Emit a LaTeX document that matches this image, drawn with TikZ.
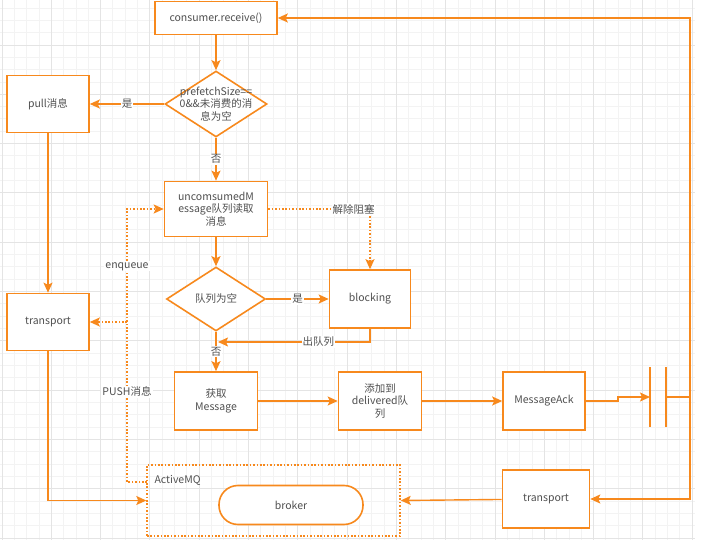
\documentclass[tikz,border=0pt]{standalone}
\usepackage{fontspec}
\setmainfont{Noto Sans CJK SC}
\usetikzlibrary{shapes.geometric,arrows.meta}
\definecolor{flow}{RGB}{247,137,29}
\definecolor{txtgray}{RGB}{80,80,80}
\definecolor{gridmin}{RGB}{243,243,243}
\definecolor{gridmaj}{RGB}{228,228,228}
\begin{document}
\begin{tikzpicture}[x=1pt,y=-1pt,font=\fontsize{10.5}{12.5}\selectfont,text=txtgray,
    box/.style={draw=flow,line width=1.6pt,fill=white,align=center,inner sep=0pt},
    cond/.style={diamond,draw=flow,line width=1.6pt,fill=white,minimum width=102pt,minimum height=66pt,inner sep=0pt},
    conn/.style={draw=flow,line width=1.4pt,-{Stealth[length=10pt,width=9pt,inset=2pt]}},
    dots/.style={conn,dash pattern=on 1.6pt off 1.8pt},
    lbl/.style={fill=white,inner sep=1pt}]
    \useasboundingbox (0,0) rectangle (705,551);
    % grid
    \foreach \k in {0,...,56} {
        \pgfmathsetmacro\gx{2+12.325*\k}
        \draw[gridmin,line width=0.9pt] (\gx,0) -- (\gx,540);
    }
    \foreach \k in {1,...,44} {
        \pgfmathsetmacro\gy{-4.3+12.325*\k}
        \draw[gridmin,line width=0.9pt] (0,\gy) -- (695,\gy);
    }
    \foreach \k in {0,...,14} {
        \pgfmathsetmacro\gx{2+49.3*\k}
        \draw[gridmaj,line width=0.9pt] (\gx,0) -- (\gx,540);
    }
    \foreach \k in {1,...,11} {
        \pgfmathsetmacro\gy{-4.3+49.3*\k}
        \draw[gridmaj,line width=0.9pt] (0,\gy) -- (695,\gy);
    }
    % nodes
    \node[box,minimum width=122pt,minimum height=33pt] (recv) at (216,18) {consumer.receive()};
    \node[cond] (pre) at (216,104) {};
    \node[align=center] (pretxt) at (pre) {prefetchSize==\\0\&\&未消费的消\\息为空};
    \node[box,minimum width=82pt,minimum height=57pt] (pull) at (48,104) {pull消息};
    \node[box,minimum width=103pt,minimum height=55pt] (unc) at (216,209) {uncomsumedM\\essage队列读取\\消息};
    \node[cond,minimum width=99pt,minimum height=64pt] (emp) at (216,299) {队列为空};
    \node[box,minimum width=81pt,minimum height=58pt] (blk) at (370,299) {blocking};
    \node[box,minimum width=82pt,minimum height=57pt] (tl) at (48,322) {transport};
    \node[box,minimum width=83pt,minimum height=58pt] (get) at (216,401) {获取\\Message};
    \node[box,minimum width=83pt,minimum height=58pt] (add) at (380,401) {添加到\\delivered队\\列};
    \node[box,minimum width=82pt,minimum height=58pt] (ack) at (544,401) {MessageAck};
    \node[draw=flow,line width=1.4pt,dash pattern=on 1.6pt off 1.8pt,minimum width=253pt,minimum height=71pt] (mq) at (273.5,500.5) {};
    \node[anchor=west] (mqlbl) at (151,480) {ActiveMQ};
    \node[box,rounded corners=19pt,minimum width=144pt,minimum height=39pt] (brk) at (291,505) {broker};
    \node[box,minimum width=87pt,minimum height=58pt] (tr) at (546,499) {transport};
    % coordinates for bends
    \coordinate (deq) at (218,342);
    \coordinate (capA) at (650,397);
    \coordinate (capB) at (666,397);
    \coordinate (ret) at (690,397);
    \coordinate (mqtap) at (147,482);
    \coordinate (pa) at (127,482);
    \coordinate (pb) at (127,209);
    \coordinate (pt) at (127,322);
    % connectors
    \draw[conn] (recv) -- (pre);
    \draw[conn] (pre) -- node[lbl]{是} (pull);
    \draw[conn] (pre) -- node[lbl]{否} (unc);
    \draw[conn] (pull) -- (tl);
    \draw[dots] (unc.east) -| node[lbl,pos=0.42]{解除阻塞} (blk.north);
    \draw[conn] (unc) -- (emp);
    \draw[conn] (emp) -- node[lbl]{是} (blk);
    \draw[conn] (blk.south) |- node[lbl,pos=0.67]{出队列} (deq);
    \draw[conn] (emp) -- node[lbl]{否} (get);
    \draw[conn] (get) -- (add);
    \draw[conn] (add) -- (ack);
    \draw[conn] (ack.east) -- ++(32,0) |- (capA);
    \draw[flow,line width=1.4pt] (650,367) -- (650,427);
    \draw[flow,line width=1.4pt] (666,367) -- (666,427);
    \draw[conn] (capB) -- (ret) |- (recv.east);
    \draw[conn] (ret) |- (tr.east);
    \draw[conn] (tl.south) |- (mq.west);
    \draw[conn] (tr) -- (mq.east);
    \draw[dots] (mqtap) -- (pa) -- node[lbl,pos=0.33]{PUSH消息} node[lbl,pos=0.79]{enqueue} (pb) -- (unc.west);
    \draw[dots] (pt) -- (tl.east);
\end{tikzpicture}
\end{document}
